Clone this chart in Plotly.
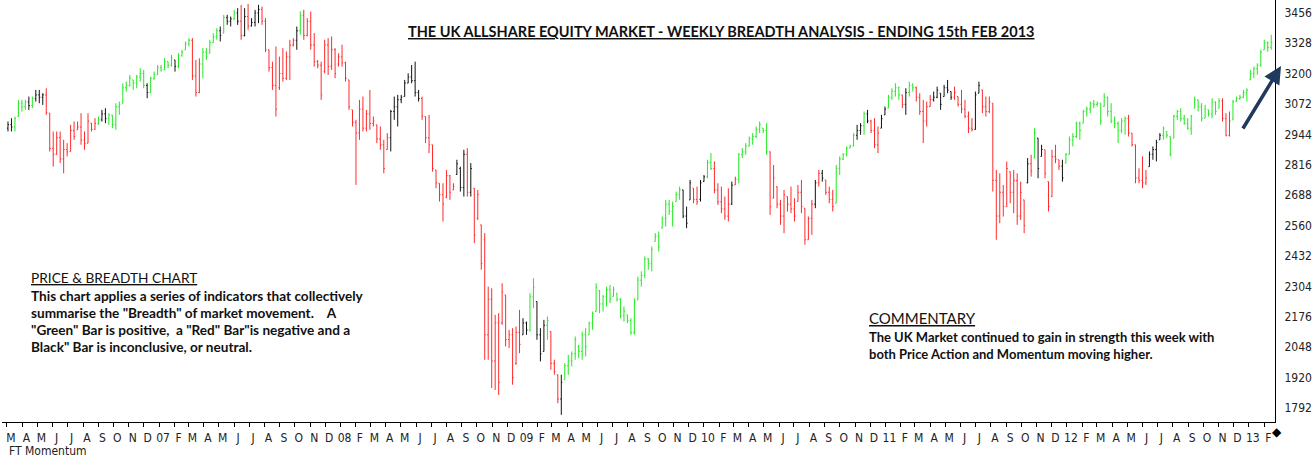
import plotly.graph_objects as go
import pandas as pd

# ---------------- data (weekly bars) ----------------
END_DATE = "2013-02-15"

HIGH = [
    2998,3012,3019,3089,3089,3089,3103,3103,3131,3131, 3117,3138,3033,2956,2956,2956,2921,2907,2984,2998,
    2998,3033,2956,3033,2991,3012,3019,3047,3054,3033, 3026,3075,3082,3159,3166,3194,3173,3194,
    3222,3215,3159,3187,3208,3236,3236,3264,3250,3278, 3257,3285,3300,3335,3349,3349,3257,3264,3307,3307,
    3342,3370,3391,3398,3447,3447,3440,3468,3475,3489, 3475,3493,3433,3468,3489,3482,3433,3300,3250,3314,
    3271,3307,3293,3342,3349,3398,3461,3468,3433,3461, 3370,3257,3250,3342,3349,3356,3307,3285,3321,3250,
    3173,3047,3005,3089,3103,3047,3131,3019,2984,2977, 2921,2949,3047,3103,3110,3110,3173,3201,3236,3250,
    3131,
    3103,3019,3026,2900,2794,2738,2738,2794,2773,2738, 2837,2808,2879,2886,2823,2717,2710,2563,2528,2303,
    2296,2184,2191,2317,2268,2121,2128,2135,2205,2170, 2156,2275,2338,2240,2128,2163,2177,2114,1995,1932,
    1932,1981,2016,2030,2093,2058,2114,2128,2156,2198, 2317,2289,2268,2303,2310,2303,2275,2254,2219,2184,
    2170,2254,2345,2367,2430,2423,2472,2528,2535,2598, 2668,2668,2661,2703,2724,2710,2640,2752,2717,2724,
    2752,2773,2837,2865,2830,2738,2724,2682,2717,2745, 2766,2865,2886,2907,2935,2949,2977,2998,2970,2991,
    2872,2815,2724,2668,2710,2682,2724,2675,2731,2752, 2633,2598,2668,2752,2794,2794,2752,2724,2710,2815,
    2851,2865,2893,2900,
    2949,2984,2991,3040,3047,3005,3012,2977,3026,3061, 3110,3138,3159,3145,3110,3138,3166,3159,3145,3117,
    3089,3082,3110,3124,3145,3117,3152,3173,3124,3145, 3103,3131,3089,3040,3012,3124,3166,
    3131,3103,3103,3075,2794,2780,2731,2830,2787,2794, 2780,2745,2668,2844,2858,2970,2928,2900,2879,2745,
    2879,2900,2837,2837,2865,2935,2949,2998,2998,3047, 3061,3082,3089,3082,3075,3117,3103,3075,3019,2998,
    3012,3019,3026,2949,2900,2801,2851,2794,2872,2893, 2921,2949,2977,2956,2935,3026,3047,3054,3026,3012,
    3026,3103,3089,3075,3068,3047,3096,3082,3096,3096, 3033,3040,3089,3103,3110,3131,3138,3215,3229,3243,
    3300,3342,3335,3363,
]

LOW = [
    2956,2956,2956,3019,3040,3047,3047,3054,3082,3075, 3068,3026,2872,2808,2858,2823,2780,2851,2872,2921,
    2963,2900,2879,2907,2956,2963,2984,2998,2991,2984, 2970,2963,3026,3075,3124,3145,3131,3138,
    3166,3138,3096,3117,3173,3194,3208,3215,3222,3229, 3208,3222,3271,3300,3314,3173,3103,3117,3180,3257,
    3285,3328,3342,3335,3370,3405,3398,3426,3405,3342, 3356,3384,3398,3398,3412,3405,3290,3208,3131,3019,
    3131,3166,3173,3173,3314,3300,3363,3342,3356,3300, 3229,3222,3089,3201,3194,3215,3180,3229,3229,3166,
    3047,2977,2731,2921,2956,2956,2963,2977,2907,2879, 2780,2879,2872,3005,2977,3075,3103,3159,3159,3103,
    3082,
    3005,2907,2865,2787,2717,2661,2577,2675,2668,2710, 2773,2703,2682,2682,2682,2486,2584,2374,1995,1995,
    1876,1868,1847,2142,2051,2044,1890,1974,2023,2100, 2100,2114,2212,2079,1988,2030,2079,1953,1932,1812,
    1763,1911,1932,1967,1995,2002,1995,2009,2100,2121, 2198,2191,2198,2219,2233,2261,2240,2170,2156,2149,
    2100,2100,2247,2303,2338,2374,2367,2493,2451,2549, 2556,2605,2556,2661,2668,2591,2549,2668,2654,2647,
    2661,2745,2759,2794,2696,2647,2612,2584,2577,2647, 2731,2738,2844,2858,2893,2900,2928,2949,2949,2858,
    2605,2675,2633,2563,2528,2619,2612,2577,2661,2612, 2479,2500,2521,2633,2724,2745,2689,2654,2619,2654,
    2773,2836,2851,2886,
    2893,2921,2942,2942,2991,2949,2886,2865,2970,3026, 3054,3089,3103,3089,3054,3026,3103,3124,3082,3026,
    2907,2977,3061,3082,3096,3047,3103,3117,3089,3089, 3061,3033,3012,2949,2956,2963,3117,
    3033,3019,3033,2703,2500,2570,2598,2640,2654,2612, 2563,2584,2528,2738,2766,2844,2759,2851,2759,2619,
    2682,2823,2794,2745,2823,2858,2893,2928,2921,2991, 3019,3033,3054,3061,2984,3061,3019,2991,2970,2907,
    2949,2942,2935,2893,2738,2738,2717,2731,2808,2837, 2830,2921,2921,2928,2851,2928,3005,2998,2984,2963,
    2942,3054,3040,2998,3012,3019,3012,3026,3054,2998, 2935,2935,3005,3082,3089,3096,3082,3173,3180,3194,
    3229,3300,3292,3300,
]

OPEN = [
    2970,2985,2975,3019,3075,3060,3080,3065,3095,3110, 3100,3110,3033,2885,2860,2930,2840,2880,2872,2960,
    2963,2975,2920,2907,2991,2965,2990,3005,3030,3010, 3025,2985,3060,3075,3140,3150,3173,3160,
    3185,3200,3150,3120,3180,3195,3225,3215,3250,3235, 3257,3230,3275,3300,3325,3340,3190,3120,3240,3290,
    3285,3330,3355,3380,3370,3435,3420,3430,3455,3420, 3360,3440,3400,3415,3455,3470,3420,3300,3225,3150,
    3140,3200,3180,3270,3320,3340,3380,3445,3360,3420, 3320,3250,3235,3210,3320,3230,3300,3240,3270,3245,
    3173,3047,2995,2950,3050,2970,3030,2990,2984,2925, 2900,2880,2930,3040,3060,3090,3103,3160,3185,3170,
    3120,
    3095,3019,2930,2900,2794,2738,2690,2680,2770,2710, 2775,2800,2720,2860,2700,2717,2590,2563,2500,2100,
    2250,1990,2150,2150,2268,2080,2100,1980,2110,2100, 2150,2120,2260,2240,2100,2030,2140,2114,1980,1932,
    1830,1911,1970,1990,2020,2050,2030,2100,2100,2150, 2198,2285,2230,2260,2290,2261,2275,2250,2180,2184,
    2160,2110,2247,2330,2350,2420,2400,2493,2515,2549, 2590,2650,2620,2661,2690,2710,2600,2668,2717,2670,
    2670,2745,2765,2825,2800,2710,2660,2630,2600,2650, 2731,2755,2860,2870,2895,2925,2935,2965,2970,2960,
    2870,2675,2724,2650,2600,2682,2650,2630,2661,2700, 2633,2500,2590,2650,2740,2780,2752,2700,2670,2654,
    2800,2840,2860,2886,
    2895,2940,2960,2980,3030,3000,2960,2900,2970,3026, 3054,3100,3125,3140,3110,3070,3120,3150,3140,3100,
    3040,3000,3061,3090,3100,3117,3103,3140,3124,3100, 3103,3070,3050,3020,2970,2965,3117,
    3131,3060,3040,3075,2750,2600,2700,2640,2787,2700, 2750,2600,2668,2740,2820,2844,2928,2851,2879,2745,
    2682,2850,2837,2810,2823,2860,2920,2935,2990,2991, 3040,3050,3075,3070,3075,3061,3100,3040,3000,2990,
    2960,3000,3010,2949,2900,2760,2750,2740,2808,2860, 2880,2921,2940,2956,2935,2928,3020,3040,3010,2990,
    2970,3054,3089,3060,3012,3047,3030,3080,3054,3085, 3010,2940,3005,3082,3095,3100,3120,3173,3200,3220,
    3235,3300,3330,3310,
]

CLOSE = [
    2985,2975,3010,3075,3060,3080,3065,3095,3110,3100, 3110,3035,2885,2860,2930,2840,2880,2870,2960,2935,
    2975,2920,2905,3000,2965,2990,3005,3030,3010,3025, 2985,3060,3070,3140,3150,3180,3160,3185,
    3200,3150,3120,3180,3195,3225,3215,3250,3235,3265, 3230,3275,3290,3325,3340,3190,3120,3240,3290,3270,
    3330,3355,3380,3360,3435,3420,3430,3455,3420,3360, 3440,3400,3415,3455,3470,3420,3300,3225,3150,3050,
    3200,3180,3270,3320,3340,3380,3445,3360,3420,3320, 3250,3235,3110,3320,3230,3300,3200,3270,3245,3180,
    3060,2995,2950,3050,2970,3030,2990,3000,2925,2900, 2800,2930,3040,3060,3090,3100,3160,3185,3170,3120,
    3095,
    3020,2930,2900,2800,2740,2690,2650,2770,2700,2725, 2820,2720,2860,2700,2800,2520,2690,2400,2100,2250,
    1990,2150,1900,2280,2080,2100,1920,2110,2060,2150, 2120,2260,2300,2100,2020,2140,2160,1980,1945,1830,
    1900,1970,1990,2020,2080,2030,2100,2050,2150,2190, 2300,2230,2260,2290,2250,2290,2250,2180,2200,2160,
    2110,2240,2330,2350,2420,2400,2460,2515,2470,2590, 2650,2620,2640,2690,2710,2600,2570,2740,2670,2660,
    2740,2765,2825,2800,2710,2660,2630,2600,2650,2730, 2755,2860,2870,2895,2925,2935,2965,2985,2960,2870,
    2640,2760,2650,2600,2690,2650,2630,2600,2700,2640, 2500,2590,2650,2740,2780,2760,2700,2670,2640,2800,
    2840,2860,2885,2895,
    2940,2960,2980,3030,3000,2960,2900,2950,3010,3050, 3100,3125,3140,3110,3070,3120,3150,3140,3100,3040,
    3000,3060,3090,3100,3130,3070,3140,3130,3100,3120, 3070,3050,3020,2970,2965,3110,3150,
    3060,3040,3080,2750,2600,2700,2640,2800,2700,2750, 2600,2700,2560,2820,2790,2950,2800,2880,2780,2640,
    2850,2840,2810,2760,2860,2920,2935,2990,2960,3040, 3050,3075,3070,3075,3000,3100,3040,3000,2990,2960,
    3000,3010,2950,2900,2760,2750,2740,2760,2860,2880, 2910,2940,2970,2940,2860,3020,3040,3010,2990,2970,
    3020,3090,3060,3010,3050,3030,3080,3040,3085,3010, 2940,3000,3080,3095,3100,3120,3130,3200,3220,3235,
    3290,3330,3310,3330,
]

# breadth signal per bar: g = positive, r = negative, k = neutral
SIGNAL = (
    "kkggggkgkkk" "rrrrrrrrrrrrrrr" "gkk" "ggggggggg"
    "ggk" "ggggggg" "k" "gggg" "rrr" "ggggg" "kgkkgkrkrkkk" "rrrrr"
    "rrrrr" "k" "g" "rrrrrrrrrrrrrrrrrrrrrrrrr" "kkkkkkkkk"
    "rrrrrrrrrr" "kkk" "r" "k" "rrrrrrrrrrrrrr" "kk" "gg" "kkk" "g" "rrr"
    "k" "gggggggggggggggggggggggggggggggggg" "kkk" "rr"
    "kkgg" "rrrrr" "k" "r" "ggggggggg" "rrrrrrrrrrrrr" "k" "r" "k" "rrr" "ggggg"
    "gkkgk" "rrr" "kk" "gggg" "r" "k" "gg" "rrrrr" "kkkkkk" "rrrrrr" "kk"
    "rrrrrrrrrrrrr" "k" "r" "g" "kk" "rrrrr" "k" "gggggggggggggggg"
    "gg" "rrrrrr" "kkkk" "ggggggggggggggggg" "rrr" "gggggggggggg"
)

Y_TICKS = [1792, 1920, 2048, 2176, 2304, 2432, 2560, 2688, 2816, 2944, 3072, 3200, 3328, 3456]
MONTH_INITIALS = ["J", "F", "M", "A", "M", "J", "J", "A", "S", "O", "N", "D"]
TICK_START, TICK_END = "2006-03-01", "2013-02-01"

TITLE = "THE UK ALLSHARE EQUITY MARKET - WEEKLY BREADTH ANALYSIS - ENDING 15th FEB 2013"
LEFT_HEAD = "PRICE & BREADTH CHART"
LEFT_LINES = [
    "This chart applies a series of indicators that collectively",
    "summarise the \"Breadth\" of market movement.    A",
    "\"Green\" Bar is positive,  a \"Red\" Bar\"is negative and a",
    "Black\" Bar is inconclusive, or neutral.",
]
RIGHT_HEAD = "COMMENTARY"
RIGHT_LINES = [
    "The UK Market continued to gain in strength this week with",
    "both Price Action and Momentum moving higher.",
]

# ---------------- figure ----------------
W, H = 1316, 463
ML, MR, MT, MB = 2, 41, 0, 41
PW, PH = W - ML - MR, H - MT - MB

def px_x(x):
    return (x - ML) / PW

def px_y(y):
    return 1 - (y - MT) / PH

n = len(HIGH)
dates = pd.date_range(end=END_DATE, periods=n, freq="W-FRI")
df = pd.DataFrame({"d": dates, "o": OPEN, "h": HIGH, "l": LOW, "c": CLOSE, "s": list(SIGNAL[:n])})

COLORS = {"g": "#22e822", "r": "#ff2a2a", "k": "#111111"}
fig = go.Figure()
for key, col in COLORS.items():
    sub = df[df["s"] == key]
    fig.add_trace(go.Ohlc(
        x=sub["d"], open=sub["o"], high=sub["h"], low=sub["l"], close=sub["c"],
        increasing=dict(line=dict(color=col, width=1)),
        decreasing=dict(line=dict(color=col, width=1)),
        tickwidth=0.3, showlegend=False, hoverinfo="skip",
    ))

tickvals = pd.date_range(TICK_START, TICK_END, freq="MS")
ticktext = [f"{d.year % 100:02d}" if d.month == 1 else MONTH_INITIALS[d.month - 1] for d in tickvals]

axis_font = dict(family="Liberation Sans Narrow, DejaVu Sans Condensed, Arial Narrow, Liberation Sans, sans-serif",
                 size=12, color="#222222")

fig.update_layout(
    width=W, height=H,
    margin=dict(l=ML, r=MR, t=MT, b=MB, autoexpand=False),
    paper_bgcolor="white", plot_bgcolor="white",
    xaxis=dict(
        type="date", range=["2006-02-19", "2013-02-22 14:00"],
        rangeslider=dict(visible=False),
        tickvals=tickvals, ticktext=ticktext, tickangle=0,
        ticks="outside", ticklen=4, tickcolor="#000", tickwidth=1,
        showline=True, linecolor="#000", linewidth=1,
        showgrid=False, zeroline=False, tickfont=axis_font,
        ticklabelshift=4, ticklabelstandoff=1,
    ),
    yaxis=dict(
        side="right", range=[1733, 3509.5],
        tickvals=Y_TICKS, ticktext=[str(v) for v in Y_TICKS],
        ticks="", showline=True, linecolor="#000", linewidth=1,
        showgrid=False, zeroline=False, tickfont=axis_font,
        ticklabelstandoff=6,
    ),
)

TEXT_FAMILY = "Lato, Open Sans, sans-serif"
ann = []
ann.append(dict(x=px_x(721), y=px_y(31), xref="paper", yref="paper", xanchor="center", yanchor="middle",
                text=f"<b><u>{TITLE}</u></b>", showarrow=False,
                font=dict(family=TEXT_FAMILY, size=14.5, color="#111")))
ann.append(dict(x=px_x(29), y=px_y(277), xref="paper", yref="paper", xanchor="left", yanchor="middle",
                text=f"<u>{LEFT_HEAD}</u>", showarrow=False,
                font=dict(family=TEXT_FAMILY, size=13.7, color="#111")))
for i, line in enumerate(LEFT_LINES):
    ann.append(dict(x=px_x(29), y=px_y(296 + 17 * i), xref="paper", yref="paper", xanchor="left", yanchor="middle",
                    text=f"<b>{line}</b>", showarrow=False,
                    font=dict(family=TEXT_FAMILY, size=13.6, color="#111")))
ann.append(dict(x=px_x(867), y=px_y(318), xref="paper", yref="paper", xanchor="left", yanchor="middle",
                text=f"<u>{RIGHT_HEAD}</u>", showarrow=False,
                font=dict(family=TEXT_FAMILY, size=15, color="#111")))
for i, line in enumerate(RIGHT_LINES):
    ann.append(dict(x=px_x(867), y=px_y(337 + 17 * i), xref="paper", yref="paper", xanchor="left", yanchor="middle",
                    text=f"<b>{line}</b>", showarrow=False,
                    font=dict(family=TEXT_FAMILY, size=13, color="#111")))
# trend arrow
ann.append(dict(x=px_x(1281), y=px_y(66), xref="paper", yref="paper", ax=-39, ay=64,
                text="", showarrow=True, arrowhead=2, arrowsize=1, arrowwidth=3.5, arrowcolor="#1f3a5c"))
# lower panel label
ann.append(dict(x=px_x(7), y=px_y(451), xref="paper", yref="paper", xanchor="left", yanchor="middle",
                text="FT Momentum", showarrow=False, font=axis_font))
# current-bar marker under the axis
ann.append(dict(x=px_x(1277), y=px_y(431), xref="paper", yref="paper", xanchor="center", yanchor="middle",
                text="\u25c6", showarrow=False, font=dict(size=12, color="#000")))
fig.update_layout(annotations=ann)

fig.write_html("out.html",
               config={"displayModeBar": False},
               post_script="document.body.style.margin='0';document.body.style.overflow='hidden';")
